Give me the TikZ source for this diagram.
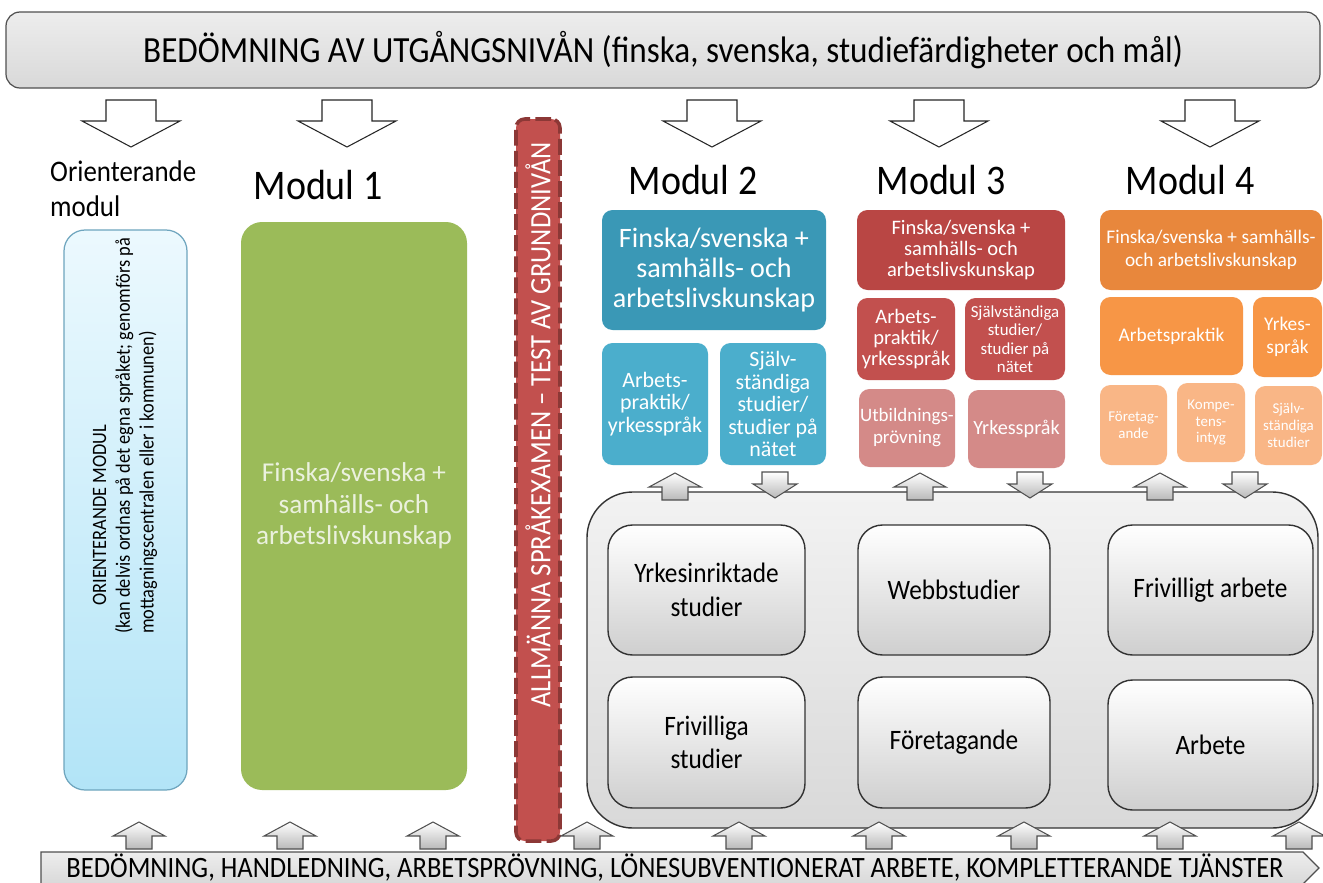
\documentclass[tikz,border=0pt]{standalone}
\usepackage{fontspec}
\setmainfont{Carlito}
\newfontfamily\narrowfont{Carlito}[FakeStretch=0.9]
\usetikzlibrary{positioning, calc}
\definecolor{framegray}{RGB}{80,80,80}
\definecolor{bardark}{RGB}{140,56,54}
\definecolor{modgreen}{RGB}{155,187,89}
\definecolor{greentext}{RGB}{235,241,222}
\definecolor{tealdark}{RGB}{58,152,182}
\definecolor{tealmid}{RGB}{75,174,204}
\definecolor{reddark}{RGB}{185,70,68}
\definecolor{redmid}{RGB}{194,80,78}
\definecolor{redlight}{RGB}{212,138,136}
\definecolor{orangedark}{RGB}{232,135,60}
\definecolor{orangemid}{RGB}{247,150,70}
\definecolor{orangelight}{RGB}{249,182,134}
\definecolor{skytop}{RGB}{236,249,254}
\definecolor{skybottom}{RGB}{178,228,247}
\definecolor{skyline}{RGB}{110,165,190}
\tikzset{
    span/.style args={#1,#2,#3,#4}{at={({(#1+#3)/2},{(#2+#4)/2})}, minimum width={(#3-#1)*0.02cm}, minimum height={(#4-#2)*0.02cm}},
    bigarrow/.style={draw=black!85, fill=white, line width=0.6pt},
    smallarrow/.style={draw=framegray, line width=0.6pt, top color=white, bottom color=gray!55},
    bigdown/.pic={\draw[bigarrow] (-25,0) -- (25,0) -- (25,21) -- (49,21) -- (0,47) -- (-49,21) -- (-25,21) -- cycle;},
    smallup/.pic={\draw[smallarrow] (0,0) -- (26,14) -- (13,14) -- (13,27) -- (-13,27) -- (-13,14) -- (-26,14) -- cycle;},
    smalldown/.pic={\draw[smallarrow] (-13,0) -- (13,0) -- (13,12) -- (22,12) -- (0,26) -- (-22,12) -- (-13,12) -- cycle;}
}

\begin{document}
\begin{tikzpicture}[
    x=0.02cm, y=-0.02cm,
    banner/.style={draw=framegray, line width=0.7pt, top color=gray!14, bottom color=gray!30, inner sep=0pt},
    modlabel/.style={font=\narrowfont\fontsize{24}{28}\selectfont},
    colbox/.style={rounded corners=6pt, inner sep=0pt, text=white, align=center},
    graybox/.style={draw=black!80, line width=0.8pt, rounded corners=14pt, top color=white, bottom color=gray!38, inner sep=0pt, align=center, font=\narrowfont\fontsize{16}{19}\selectfont}
]
    \useasboundingbox[fill=white] (0,0) rectangle (1323,883);

    % top and bottom bands
    \node[banner, rounded corners=8pt, span={6,12,1320,88}, font=\narrowfont\fontsize{21}{24}\selectfont] (start) {BEDÖMNING AV UTGÅNGSNIVÅN (finska, svenska, studiefärdigheter och mål)};
    \draw[banner] (41,852) -- (1303,852) -- (1319,868) -- (1303,884) -- (41,884) -- cycle;
    \node[font=\narrowfont\fontsize{16.8}{19}\selectfont] (support) at (675,868) {BEDÖMNING, HANDLEDNING, ARBETSPRÖVNING, LÖNESUBVENTIONERAT ARBETE, KOMPLETTERANDE TJÄNSTER};

    % arrows from the top band
    \foreach \xa in {131, 347, 712, 939, 1210}
        \pic at (\xa,100) {bigdown};

    % module headings
    \node[font=\narrowfont\fontsize{17}{20}\selectfont, align=left, anchor=west] (orlabel) at (44,189) {Orienterande\\modul};
    \node[modlabel] (mod1) at (318,185) {Modul 1};
    \node[modlabel] (mod2) at (693,180) {Modul 2};
    \node[modlabel] (mod3) at (941,180) {Modul 3};
    \node[modlabel] (mod4) at (1190,180) {Modul 4};

    % orienterande modul
    \node[draw=skyline, line width=0.7pt, rounded corners=12pt, top color=skytop, bottom color=skybottom, inner sep=0pt, span={64,230,187,790}] (orbox) {};
    \node[rotate=90, anchor=west, align=left, font=\narrowfont\fontsize{11.6}{13.5}\selectfont] (ortext) at (125,640) {\hspace*{16pt}ORIENTERANDE MODUL\\(kan delvis ordnas på det egna språket; genomförs på\\mottagningscentralen eller i kommunen)};

    % modul 1
    \node[colbox, rounded corners=12pt, fill=modgreen, text=greentext, span={241,222,467,790}, font=\fontsize{15.5}{18}\selectfont] (m1) {Finska/svenska +\\samhälls- och\\arbetslivskunskap};

    % language test
    \node[draw=bardark, line width=2pt, dash pattern=on 9pt off 3pt, rounded corners=5pt, fill=redmid, inner sep=0pt, span={516,119,560,841}] (test) {};
    \node[rotate=90, text=white, font=\narrowfont\fontsize{16.8}{18}\selectfont] (testtext) at (538,425) {ALLMÄNNA SPRÅKEXAMEN – TEST AV GRUNDNIVÅN};

    % modul 2
    \node[colbox, fill=tealdark, span={602,210,826,330}, font=\fontsize{16}{17}\selectfont] (m2top) {Finska/svenska +\\samhälls- och\\arbetslivskunskap};
    \node[colbox, fill=tealmid, span={602,343,708,465}, font=\fontsize{12.5}{12.8}\selectfont] (m2a) {Arbets-\\praktik/\\yrkesspråk};
    \node[colbox, fill=tealmid, span={720,343,826,465}, font=\fontsize{12.5}{12.8}\selectfont] (m2b) {Själv-\\ständiga\\studier/\\studier på\\nätet};

    % modul 3
    \node[colbox, fill=reddark, span={857,210,1065,290}, font=\fontsize{11.7}{12}\selectfont] (m3top) {Finska/svenska +\\samhälls- och\\arbetslivskunskap};
    \node[colbox, fill=redmid, span={857,298,955,380}, font=\fontsize{11.7}{12}\selectfont] (m3a) {Arbets-\\praktik/\\yrkesspråk};
    \node[colbox, fill=redmid, span={965,298,1065,380}, font=\fontsize{9.6}{10.5}\selectfont] (m3b) {Självständiga\\studier/\\studier på\\nätet};
    \node[colbox, fill=redlight, span={859,389,955,467}, font=\fontsize{10.8}{12.5}\selectfont] (m3c) {Utbildnings-\\prövning};
    \node[colbox, fill=redlight, span={968,390,1065,468}, font=\fontsize{11.5}{12.5}\selectfont] (m3d) {Yrkesspråk};

    % modul 4
    \node[colbox, fill=orangedark, span={1100,210,1322,290}, font=\fontsize{11}{13}\selectfont] (m4top) {Finska/svenska + samhälls-\\och arbetslivskunskap};
    \node[colbox, fill=orangemid, span={1100,297,1243,375}, font=\fontsize{11}{13}\selectfont] (m4a) {Arbetspraktik};
    \node[colbox, fill=orangemid, span={1253,297,1322,377}, font=\fontsize{11}{13}\selectfont] (m4b) {Yrkes-\\språk};
    \node[colbox, fill=orangelight, span={1100,385,1167,465}, font=\fontsize{8.5}{9.5}\selectfont] (m4c) {Företag-\\ande};
    \node[colbox, fill=orangelight, span={1177,383,1245,462}, font=\fontsize{8.5}{9.5}\selectfont] (m4d) {Kompe-\\tens-\\intyg};
    \node[colbox, fill=orangelight, span={1255,386,1322,465}, font=\fontsize{8.5}{9.5}\selectfont] (m4e) {Själv-\\ständiga\\studier};

    % pathways
    \node[draw=black!80, line width=0.8pt, rounded corners=26pt, top color=gray!10, bottom color=gray!30, inner sep=0pt, span={587,492,1318,828}] (paths) {};
    \node[graybox, span={608,525,805,655}] (p1) {Yrkesinriktade\\studier};
    \node[graybox, span={858,525,1050,655}] (p2) {Webbstudier};
    \node[graybox, span={1108,525,1313,655}] (p3) {Frivilligt arbete};
    \node[graybox, span={608,677,805,808}] (p4) {Frivilliga\\studier};
    \node[graybox, span={858,677,1050,808}] (p5) {Företagande};
    \node[graybox, span={1108,680,1313,810}] (p6) {Arbete};

    % small arrows
    \foreach \xa in {675, 920, 1160}
        \pic at (\xa,473) {smallup};
    \foreach \xa in {775, 1030, 1245}
        \pic at (\xa,472) {smalldown};
    \foreach \xa in {139, 290, 433, 587, 739, 879, 1024, 1170, 1299}
        \pic at (\xa,822) {smallup};
\end{tikzpicture}
\end{document}
